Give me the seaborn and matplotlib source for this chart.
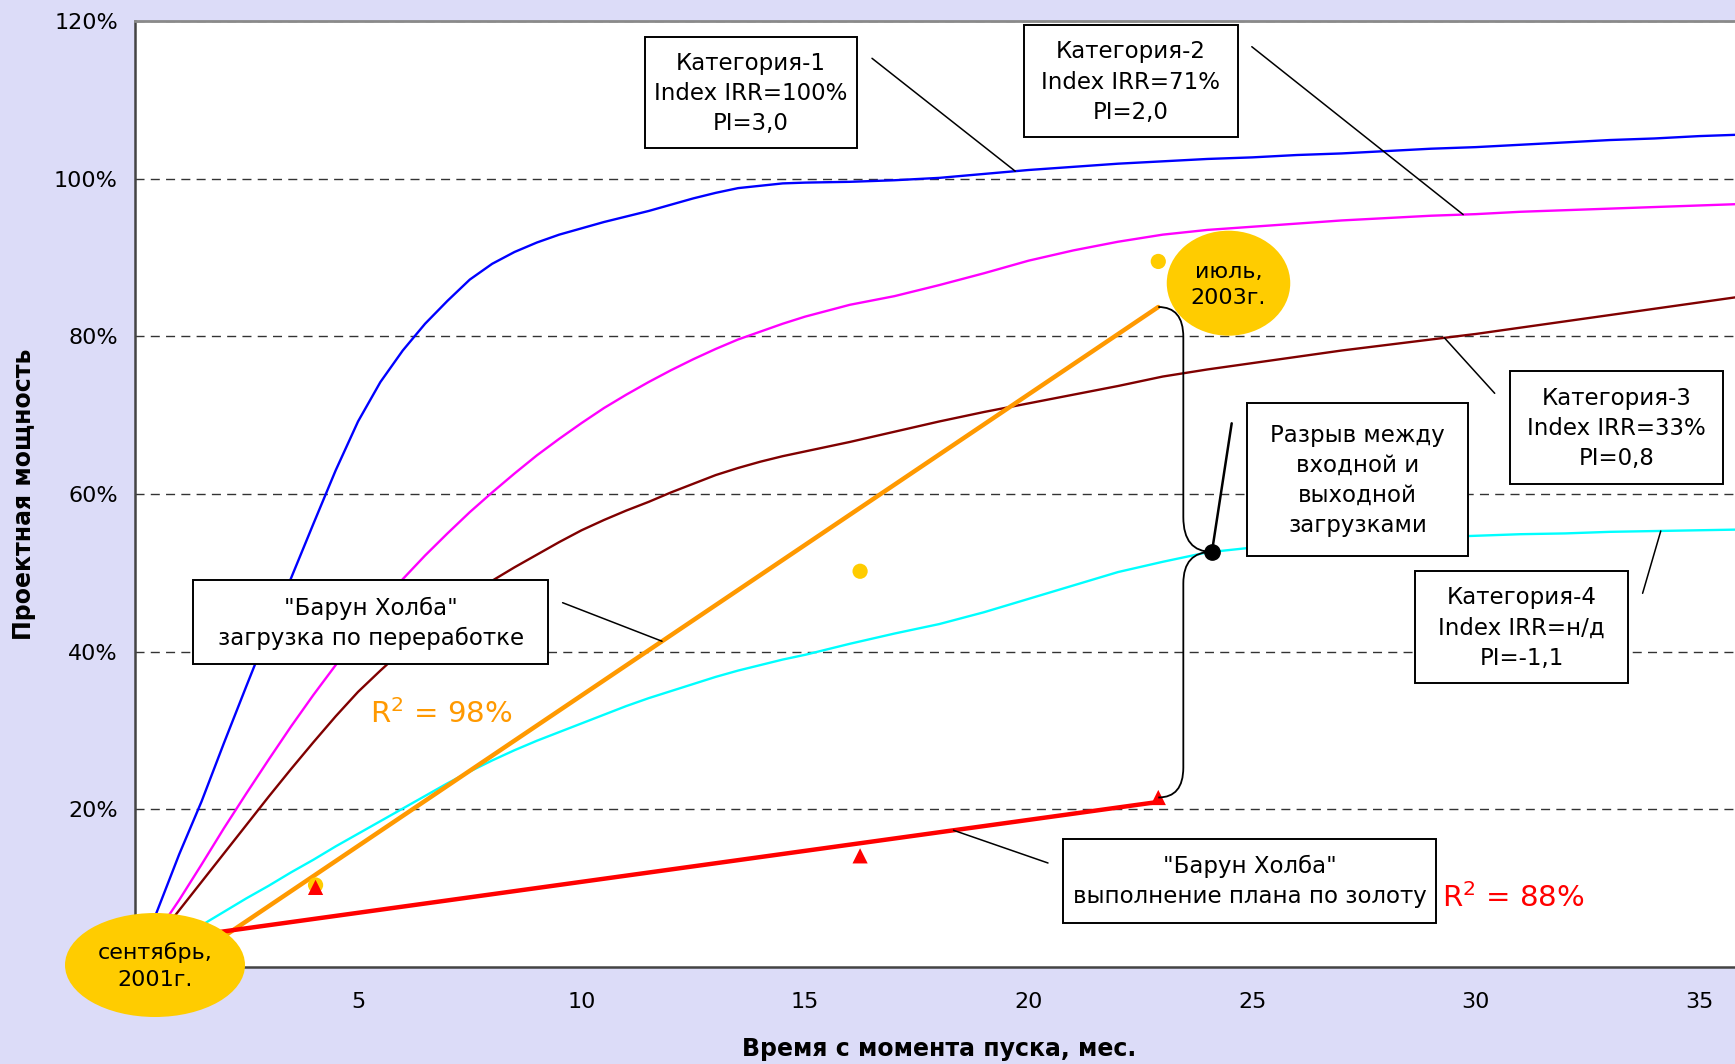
import numpy as np
import pandas as pd
import matplotlib
matplotlib.use("Agg")
import matplotlib.pyplot as plt
import seaborn as sns
from matplotlib.patches import Ellipse, Rectangle, PathPatch
from matplotlib.path import Path
from matplotlib.transforms import Affine2D
from matplotlib.ticker import FuncFormatter

# ---- data -------------------------------------------------------------
# half-month steps during ramp-up, monthly afterwards
months = np.concatenate([np.arange(0, 15, 0.5), np.arange(15, 37)])

cat1_load = [0, 7.0, 14.3, 21.0, 28.4, 35.6, 42.7, 49.3, 56.2, 63.0,
             69.2, 74.2, 78.2, 81.6, 84.5, 87.2, 89.2, 90.7, 91.9, 92.9,
             93.7, 94.5, 95.2, 95.9, 96.7, 97.5, 98.2, 98.8, 99.1, 99.4,
             99.5, 99.6, 99.8, 100.1, 100.6, 101.1, 101.5, 101.9, 102.2,
             102.5, 102.7, 103.0, 103.2, 103.5, 103.8, 104.0, 104.3, 104.6,
             104.9, 105.1, 105.4, 105.6]
cat2_load = [0, 4.3, 8.5, 13.0, 17.6, 22.0, 26.3, 30.5, 34.5, 38.3,
             42.0, 45.7, 49.2, 52.2, 55.0, 57.7, 60.2, 62.6, 64.9, 67.0,
             69.0, 70.9, 72.6, 74.2, 75.7, 77.1, 78.4, 79.6, 80.6, 81.6,
             82.5, 84.0, 85.1, 86.5, 88.0, 89.6, 90.9, 92.0, 92.9,
             93.5, 93.9, 94.3, 94.7, 95.0, 95.3, 95.5, 95.8, 96.0,
             96.2, 96.4, 96.6, 96.8]
cat3_load = [0, 3.6, 7.2, 10.8, 14.4, 18.0, 21.6, 25.1, 28.5, 31.8,
             34.9, 37.6, 40.2, 42.7, 45.0, 47.1, 49.0, 50.7, 52.3, 53.9,
             55.4, 56.7, 57.9, 59.0, 60.2, 61.3, 62.4, 63.3, 64.1, 64.8,
             65.4, 66.6, 67.9, 69.2, 70.4, 71.5, 72.6, 73.7, 74.9,
             75.8, 76.6, 77.4, 78.2, 78.9, 79.6, 80.3, 81.1, 81.9,
             82.7, 83.5, 84.3, 85.1]
cat4_load = [0, 1.8, 3.6, 5.3, 7.0, 8.7, 10.3, 12.0, 13.6, 15.3,
             16.9, 18.5, 20.1, 21.7, 23.3, 24.8, 26.2, 27.5, 28.7, 29.8,
             30.9, 32.0, 33.1, 34.1, 35.0, 35.9, 36.8, 37.6, 38.3, 39.0,
             39.6, 41.0, 42.3, 43.5, 45.0, 46.7, 48.4, 50.1, 51.4,
             52.6, 53.2, 53.6, 53.9, 54.2, 54.5, 54.7, 54.9, 55.0,
             55.2, 55.3, 55.4, 55.5]

categories = ["Категория-1", "Категория-2", "Категория-3", "Категория-4"]
category_notes = ["Index IRR=100%\nPI=3,0", "Index IRR=71%\nPI=2,0",
                  "Index IRR=33%\nPI=0,8", "Index IRR=н/д\nPI=-1,1"]
category_colors = ["#0000FF", "#FF00FF", "#800000", "#00FFFF"]

# "Барун Холба" actual figures
plant_months = [1, 4.05, 16.23, 22.9]
processing_load = [3.65, 10.4, 50.2, 89.5]    # загрузка по переработке
gold_plan = [0.8, 10.1, 14.1, 21.5]           # выполнение плана по золоту
gap_month = 24.1

x_ticks = [5, 10, 15, 20, 25, 30, 35]
y_ticks = [20, 40, 60, 80, 100, 120]

# ---- figure -----------------------------------------------------------
sns.set_style("white")
plt.rcParams["font.family"] = ["DejaVu Sans"]
plt.rcParams["text.color"] = "black"
plt.rcParams["axes.labelcolor"] = "black"

W, H = 1735, 1064
fig = plt.figure(figsize=(W / 100, H / 100), dpi=100, facecolor="#DCDCF8")
ax = fig.add_axes([134.5 / W, 1 - 967 / H, 1 - 134.5 / W, (967 - 21) / H])
ax.set_facecolor("white")

# pixel coordinates (origin top-left) for callouts
px = Affine2D().scale(1 / W, -1 / H).translate(0, 1) + fig.transFigure

df = pd.DataFrame({
    "month": np.tile(months, 4),
    "load": np.concatenate([cat1_load, cat2_load, cat3_load, cat4_load]),
    "category": np.repeat(categories, len(months)),
})
sns.lineplot(data=df, x="month", y="load", hue="category",
             palette=dict(zip(categories, category_colors)),
             linewidth=1.7, legend=False, ax=ax, zorder=3)

# linear trends
sns.regplot(x=plant_months, y=processing_load, ax=ax, ci=None, scatter=False,
            truncate=True, line_kws=dict(color="#FF9900", lw=3.2, zorder=4))
sns.regplot(x=plant_months, y=gold_plan, ax=ax, ci=None, scatter=False,
            truncate=True, line_kws=dict(color="#FF0000", lw=3.2, zorder=4))

sns.scatterplot(x=plant_months, y=processing_load, color="#FFCC00", s=120,
                marker="o", edgecolor="none", ax=ax, zorder=5)
sns.scatterplot(x=plant_months, y=gold_plan, color="#FF0000", s=120,
                marker="^", edgecolor="none", ax=ax, zorder=6)

gap_load = float(np.interp(gap_month, months, cat4_load))
ax.plot([gap_month], [gap_load], "o", color="black", ms=11, zorder=9)

proc_fit = np.polyfit(plant_months, processing_load, 1)
gold_fit = np.polyfit(plant_months, gold_plan, 1)
r2_proc = np.corrcoef(plant_months, processing_load)[0, 1] ** 2
r2_gold = np.corrcoef(plant_months, gold_plan)[0, 1] ** 2

# ---- axes -------------------------------------------------------------
ax.set_xlim(0, 35.8)
ax.set_ylim(0, 120)
ax.set_xticks(x_ticks)
ax.set_yticks(y_ticks)
ax.yaxis.set_major_formatter(FuncFormatter(lambda v, p: f"{v:.0f}%"))
ax.tick_params(axis="both", direction="out", length=6, width=1.2,
               color="#444444", labelcolor="black", labelsize=16)
ax.tick_params(axis="x", pad=12)
ax.tick_params(axis="y", pad=6)
ax.yaxis.grid(True, color="#333333", linestyle=(0, (6.5, 4.5)), linewidth=1.0)
ax.xaxis.grid(False)
ax.set_axisbelow(True)
ax.spines["right"].set_visible(False)
ax.spines["top"].set_color("#8A8A8A")
ax.spines["top"].set_linewidth(2)
for s in ("left", "bottom"):
    ax.spines[s].set_color("#444444")
    ax.spines[s].set_linewidth(1.8)

ax.set_xlabel("Время с момента пуска, мес.", fontsize=17, fontweight="bold")
ax.set_ylabel("Проектная мощность", fontsize=17, fontweight="bold")
ax.xaxis.label.set_va("center")
ax.yaxis.label.set_va("center")
ax.xaxis.set_label_coords((939 - 134.5) / 1600.5, (967 - 1049) / 946)
ax.yaxis.set_label_coords((24 - 134.5) / 1600.5, (967 - 494) / 946)

# ---- callouts ---------------------------------------------------------
def box(x0, y0, x1, y1, text, fs=16.5):
    ax.add_patch(Rectangle((x0, y0), x1 - x0, y1 - y0, transform=px,
                           facecolor="white", edgecolor="black", lw=1.4,
                           clip_on=False, zorder=10))
    ax.text((x0 + x1) / 2, (y0 + y1) / 2 + 1, text, transform=px,
            ha="center", va="center", fontsize=fs, linespacing=1.4,
            color="black", zorder=11, clip_on=False)


def leader(start_px, x_end, series, lw=1.1):
    if callable(series):
        y_end = float(series(x_end))
    else:
        y_end = float(np.interp(x_end, months, series))
    ax.annotate("", xy=(x_end, y_end), xycoords="data",
                xytext=start_px, textcoords=px,
                arrowprops=dict(arrowstyle="-", color="black", lw=lw,
                                shrinkA=0, shrinkB=0), zorder=8)


box(644.6, 36.7, 856.7, 148.3, categories[0] + "\n" + category_notes[0])
box(1024, 25, 1237.5, 137.3, categories[1] + "\n" + category_notes[1])
box(1509.6, 370.7, 1723, 484, categories[2] + "\n" + category_notes[2])
box(1415.4, 571, 1627.7, 682.7, categories[3] + "\n" + category_notes[3])
box(1246.7, 402.7, 1468.3, 556, "Разрыв между\nвходной и\nвыходной\nзагрузками")
box(193.3, 580, 548.3, 664.3, "\"Барун Холба\"\nзагрузка по переработке")
box(1063.3, 838.7, 1436.3, 922.8, "\"Барун Холба\"\nвыполнение плана по золоту")

leader((872, 58.3), 19.70, cat1_load)
leader((1251.8, 46.7), 29.72, cat2_load)
leader((1494.7, 393.3), 29.3, cat3_load)
leader((1642.6, 593.3), 34.14, cat4_load)
leader((562.6, 602.7), 11.8, lambda x: np.polyval(proc_fit, x))
leader((1048, 863), 18.32, lambda x: np.polyval(gold_fit, x))
ax.annotate("", xy=(gap_month, gap_load), xycoords="data",
            xytext=(1231.7, 423.3), textcoords=px,
            arrowprops=dict(arrowstyle="-", color="black", lw=1.8,
                            shrinkA=0, shrinkB=0), zorder=8)

# brace linking the two trend ends with the gap point
x0 = plant_months[-1]
xv = 23.46
top = float(np.polyval(proc_fit, x0))
bot = gold_plan[-1]
verts = [(x0, top), (xv, top), (xv, top - 3.8),
         (xv, gap_load + 4.4), (xv, gap_load), (gap_month, gap_load),
         (xv, gap_load), (xv, gap_load - 4.0),
         (xv, bot + 3.8), (xv, bot), (x0, bot)]
codes = [Path.MOVETO, Path.CURVE3, Path.CURVE3,
         Path.LINETO, Path.CURVE3, Path.CURVE3,
         Path.CURVE3, Path.CURVE3,
         Path.LINETO, Path.CURVE3, Path.CURVE3]
ax.add_patch(PathPatch(Path(verts, codes), facecolor="none",
                       edgecolor="black", lw=1.3, zorder=7))

# date bubbles
ax.add_patch(Ellipse((155, 965), 180, 104, transform=px, facecolor="#FFCC00",
                     edgecolor="none", clip_on=False, zorder=12))
ax.text(155, 966, "сентябрь,\n2001г.", transform=px, ha="center", va="center",
        fontsize=16, linespacing=1.4, color="black", zorder=13, clip_on=False)
ax.add_patch(Ellipse((1228.5, 283.2), 123.5, 105, transform=px,
                     facecolor="#FFCC00", edgecolor="none", clip_on=False,
                     zorder=12))
ax.text(1228.5, 285, "июль,\n2003г.", transform=px, ha="center", va="center",
        fontsize=16, linespacing=1.4, color="black", zorder=13, clip_on=False)

# goodness of fit
ax.text(370, 723, f"R$^2$ = {r2_proc:.0%}", transform=px, color="#FF9900",
        fontsize=21, ha="left", va="baseline", zorder=11)
ax.text(1441.7, 907, f"R$^2$ = {r2_gold:.0%}", transform=px, color="#FF0000",
        fontsize=21, ha="left", va="baseline", zorder=11, clip_on=False)

fig.savefig("out.png", dpi=100, facecolor=fig.get_facecolor())
